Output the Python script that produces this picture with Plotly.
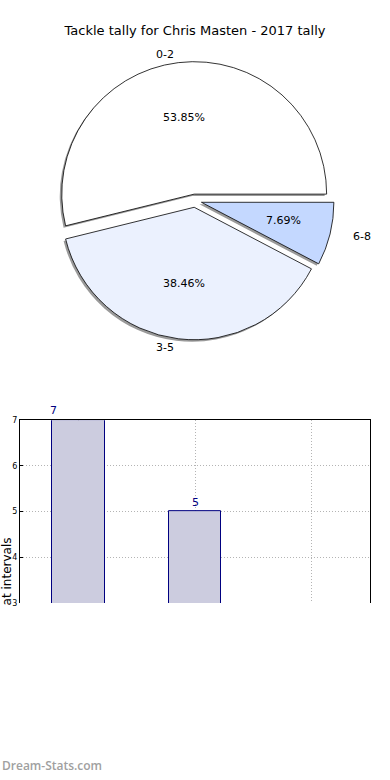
import math
import plotly.graph_objects as go

# ---- data ----
title_text = "Tackle tally for Chris Masten - 2017 tally"
categories = ["0-2", "3-5", "6-8"]
tackles = [7, 5, 1]
pie_colors = ["#ffffff", "#ebf1fe", "#c4d8ff"]
y_ticks = [3, 4, 5, 6, 7]
y_title = "at intervals"
watermark = "Dream-Stats.com"

W, H = 390, 780

def px(x):
    return x / W

def py(y):
    return 1 - y / H

# pie geometry (pixels)
cx, cy = 195, 199
r = 134
pull = 0.05
half = r * (1 + pull)
dom_x = [px(cx - half), px(cx + half)]
dom_y = [py(cy + half), py(cy - half)]
sh = 2  # shadow offset px

total = sum(tackles)
# plotly (counterclockwise): first slice ends at `rotation`; we want it to start at 3 o'clock
rotation = 90 - 360 * tackles[0] / total

fig = go.Figure()

# shadow pie
fig.add_trace(go.Pie(
    labels=categories, values=tackles, sort=False, direction="counterclockwise",
    rotation=rotation, pull=[pull] * len(tackles), textinfo="none", hoverinfo="skip",
    marker=dict(colors=["#9a9a9a"] * len(tackles), line=dict(width=0)),
    domain=dict(x=[dom_x[0] - px(sh), dom_x[1] - px(sh)], y=[dom_y[0] - sh / H, dom_y[1] - sh / H]),
    showlegend=False,
))
# main pie
fig.add_trace(go.Pie(
    labels=categories, values=tackles, sort=False, direction="counterclockwise",
    rotation=rotation, pull=[pull] * len(tackles), textinfo="none",
    marker=dict(colors=pie_colors, line=dict(color="#000000", width=0.8)),
    domain=dict(x=dom_x, y=dom_y), showlegend=False,
))

annotations = []
start = 0.0
rx, ry = 140, 130
for lab, v in zip(categories, tackles):
    frac = v / total
    mid = math.radians((start + frac / 2) * 360)
    start += frac
    c, s = math.cos(mid), math.sin(mid)
    ox, oy = cx + pull * rx * c, cy - pull * ry * s
    # outer label
    lx, ly = ox + 1.1 * rx * c, oy - 1.1 * ry * s
    annotations.append(dict(
        text=lab, x=px(lx), y=py(ly), xref="paper", yref="paper", showarrow=False,
        xanchor="left" if c > 0 else "right", yanchor="middle",
        font=dict(size=11, color="#000", family="DejaVu Sans")))
    # percentage label
    tx, ty = ox + 0.6 * rx * c, oy - 0.6 * ry * s
    annotations.append(dict(
        text="%.2f%%" % (frac * 100), x=px(tx), y=py(ty), xref="paper", yref="paper",
        showarrow=False, xanchor="center", yanchor="middle",
        font=dict(size=11, color="#000", family="DejaVu Sans")))

# bar chart
bar_width = 0.45
fig.add_trace(go.Bar(
    x=categories, y=tackles, width=bar_width, xaxis="x", yaxis="y",
    marker=dict(color="#ccccdf", line=dict(color="#000080", width=1)),
    showlegend=False, hoverinfo="x+y",
))

y_min, y_max = y_ticks[0], y_ticks[-1]
label_shift = [-25, 0, 0]
for i, (lab, v) in enumerate(zip(categories, tackles)):
    if y_min <= v <= y_max:
        annotations.append(dict(
            text=str(v), x=lab, y=v, xref="x", yref="y", showarrow=False,
            yanchor="bottom", yshift=1, xshift=label_shift[i],
            font=dict(size=11, color="#000080", family="DejaVu Sans")))

annotations.append(dict(
    text=y_title, x=px(7), y=py(574), xref="paper", yref="paper", showarrow=False,
    textangle=-90, xanchor="center", yanchor="middle",
    font=dict(size=12, color="#000", family="DejaVu Sans")))
annotations.append(dict(
    text=watermark, x=0, y=py(770), xref="paper", yref="paper", showarrow=False,
    xanchor="left", yanchor="middle",
    font=dict(size=12, color="#a0a0a0", family="Open Sans", weight=600)))

grid_style = dict(showgrid=True, gridcolor="#b4b4b4", griddash="1px,2px", gridwidth=1, zeroline=False)

fig.update_layout(
    width=W, height=H, margin=dict(l=0, r=0, t=0, b=0),
    paper_bgcolor="#ffffff", plot_bgcolor="#ffffff",
    title=dict(text=title_text, x=0.5, xanchor="center", y=py(30), yanchor="middle",
               font=dict(size=13, color="#000", family="DejaVu Sans")),
    xaxis=dict(domain=[px(20), px(370)], range=[-0.5, 2.5], side="top",
               showline=True, linecolor="#000", linewidth=1, mirror=False,
               showticklabels=False, ticks="", type="category", **grid_style),
    yaxis=dict(domain=[py(606), py(421)], range=[y_min, y_max], tickvals=y_ticks,
               showline=True, linecolor="#000", linewidth=1, mirror=True,
               ticks="inside", ticklen=3, tickcolor="#000",
               tickfont=dict(size=8, color="#000", family="DejaVu Sans"), **grid_style),
    annotations=annotations,
    bargap=0,
)

fig.write_html("out.html", config={"displayModeBar": False},
               post_script="document.body.style.margin='0';document.body.style.overflow='hidden';")
